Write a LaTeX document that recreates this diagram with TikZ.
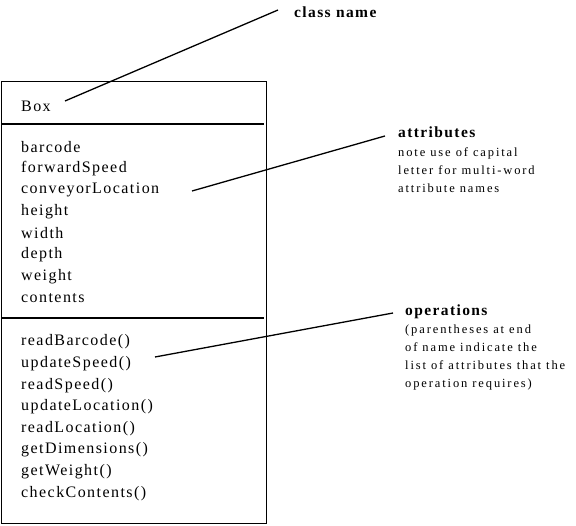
\documentclass[tikz,border=0pt]{standalone}
\usepackage{fontspec}
\setmainfont{Liberation Serif}
\newfontfamily\spaced[LetterSpace=9]{Liberation Serif}
\newfontfamily\spacedsmall[LetterSpace=15]{Liberation Serif}
\begin{document}
\begin{tikzpicture}[x=1pt,y=-1pt,
  item/.style={anchor=west,inner sep=0pt,font=\fontsize{16}{18}\spaced},
  head/.style={anchor=west,inner sep=0pt,font=\fontsize{15.5}{17}\spaced\bfseries},
  note/.style={anchor=north west,inner sep=0pt,align=left,font=\fontsize{12.5}{18}\spacedsmall},
  lead/.style={line width=1.3pt},
  frame/.style={draw,line width=1.2pt}]
\useasboundingbox (0,0) rectangle (576,526);
\node[frame,anchor=north west,minimum width=265,minimum height=442,inner sep=0pt] (box) at (1,81) {};
\coordinate (d1l) at (1,124); \coordinate (d1r) at (264,124);
\coordinate (d2l) at (1,318); \coordinate (d2r) at (264,318);
\draw[line width=1.2pt] (d1l) -- (d1r);
\draw[line width=1.2pt] (d2l) -- (d2r);
\node[item] (cls) at (21,106) {Box};
\foreach \t [count=\i] in {barcode,forwardSpeed,conveyorLocation,height,width,depth,weight,contents}
  \node[item] (a\i) at (21,{147+(\i-1)*21.6}) {\t};
\foreach \t [count=\i] in {readBarcode(),updateSpeed(),readSpeed(),updateLocation(),readLocation(),getDimensions(),getWeight(),checkContents()}
  \node[item] (o\i) at (21,{342+(\i-1)*21.6}) {\t};
\node[head] (lcls) at (294,12) {class name};
\node[head] (latt) at (398,132) {attributes};
\node[note] (natt) at (398,148) {note use of capital\\letter for multi-word\\attribute names};
\node[head] (lops) at (405,312) {operations};
\node[note] (nops) at (405,325) {(parentheses at end\\of name indicate the\\list of attributes that the\\operation requires)};
\coordinate (c1) at (65,101); \coordinate (c2) at (278,10);
\coordinate (c3) at (192,191); \coordinate (c4) at (385,136);
\coordinate (c5) at (155,357); \coordinate (c6) at (393,313);
\draw[lead] (c1) -- (c2);
\draw[lead] (c3) -- (c4);
\draw[lead] (c5) -- (c6);
\end{tikzpicture}
\end{document}
